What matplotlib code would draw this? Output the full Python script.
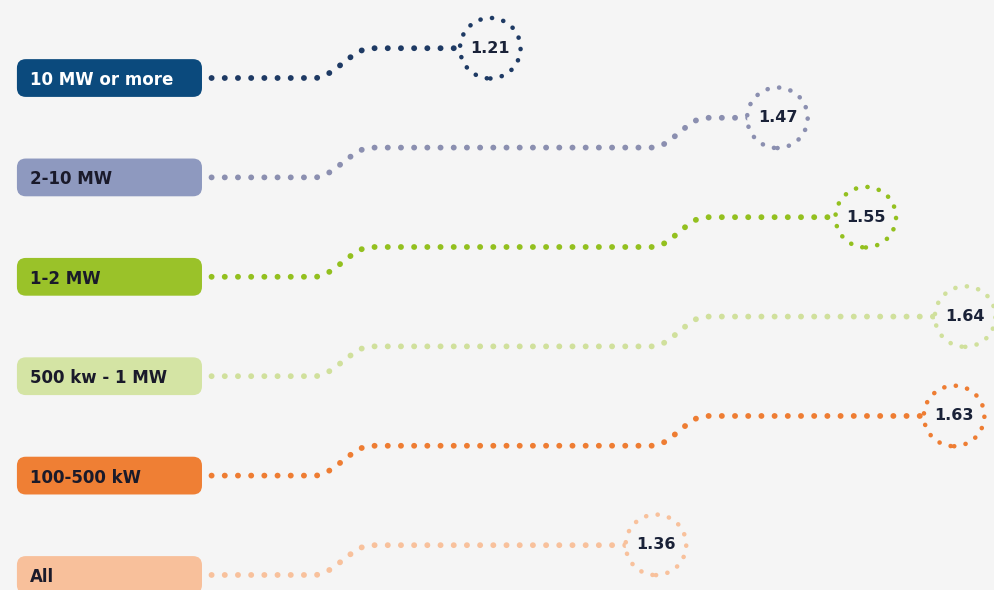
import numpy as np
import matplotlib
matplotlib.use('Agg')
import matplotlib.pyplot as plt
from matplotlib.patches import FancyBboxPatch

plt.rcParams['lines.scale_dashes'] = False
plt.rcParams['font.family'] = ['DejaVu Sans']

# dados
categorias = ['10 MW or more', '2-10 MW', '1-2 MW', '500 kw - 1 MW', '100-500 kW', 'All']
valores = [1.21, 1.47, 1.55, 1.64, 1.63, 1.36]
cor_caixa = ['#0b4a7d', '#8e99bf', '#9ac229', '#d4e4a4', '#ef7f34', '#f8c09b']
cor_ponto = ['#1e3a64', '#8b8fb0', '#93c01f', '#d0e09c', '#ee7d33', '#f8c19c']
cor_texto = ['white', '#1a1a2a', '#1a1a2a', '#1a1a2a', '#1a1a2a', '#1a1a2a']

fundo = '#f5f5f5'
fig = plt.figure(figsize=(9.95, 5.9), dpi=100, facecolor=fundo)
ax = fig.add_axes([0, 0, 1, 1])
ax.set_facecolor(fundo)
ax.set_xlim(0.766, 1.667)
ax.set_ylim(5.151, -0.785)
ax.axis('off')

def degrau(x, a, b):
    t = np.clip((x - a) / (b - a), 0, 1)
    return t * t * (3 - 2 * t)

h = 0.30
for i, (cat, v) in enumerate(zip(categorias, valores)):
    # curva pontilhada
    x = np.linspace(0.85, v, 400)
    y = i - h * degrau(x, 1.051, 1.102) - h * degrau(x, 1.357, 1.405)
    ax.plot(x, y, color=cor_ponto[i], lw=4.2, dashes=(0.1, 9.4),
            dash_capstyle='round', zorder=1)
    # anel no final
    yf = y[-1]
    anel = ax.scatter([v], [yf], s=1900, facecolor=fundo, edgecolor=cor_ponto[i],
                      linewidths=3.3, linestyle=(0, (0.1, 8.3)), zorder=2)
    anel.set_capstyle('round')
    ax.text(v, yf, f'{v:.2f}', ha='center', va='center', fontsize=11.5,
            fontweight='bold', color='#1a2238', zorder=3)
    # caixa do rótulo
    caixa = FancyBboxPatch((0.017, i - 0.19), 0.186, 0.38,
                           boxstyle='round,pad=0,rounding_size=0.009',
                           mutation_aspect=10.0, transform=ax.get_yaxis_transform(),
                           facecolor=cor_caixa[i], edgecolor='none', zorder=4)
    ax.add_patch(caixa)
    ax.text(0.030, i + 0.02, cat, transform=ax.get_yaxis_transform(), ha='left',
            va='center', fontsize=12, fontweight='bold', color=cor_texto[i], zorder=5)

fig.savefig('out.png', dpi=100, facecolor=fundo)
